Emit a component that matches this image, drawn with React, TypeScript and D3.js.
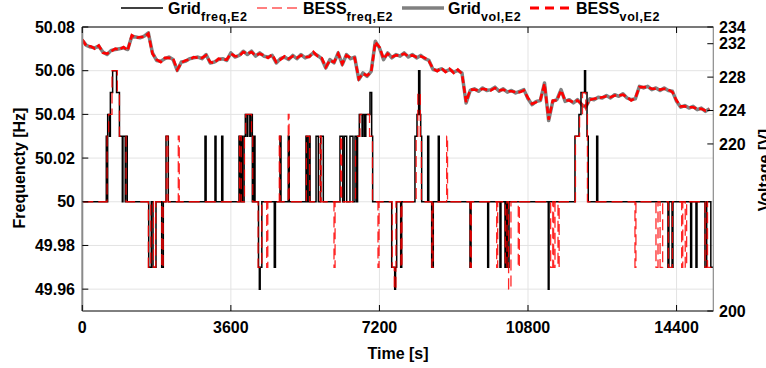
import React from 'react';
import * as d3 from 'd3';

const W = 766;
const H = 368;

const timeTicks = [0, 3600, 7200, 10800, 14400];
const freqTicks = [49.96, 49.98, 50, 50.02, 50.04, 50.06, 50.08];
const voltTicks = [200, 220, 224, 228, 232, 234];
const timeEnd = 15290;
const volStep = 100; // seconds between voltage samples

const gridVol = [
  232.4, 231.8, 231.6, 231.5, 231.7, 231.0, 230.7, 231.2, 231.3, 231.4,
  231.5, 231.3, 232.9, 232.8, 232.7, 232.9, 233.3, 230.9, 230.0, 229.9,
  230.2, 230.4, 230.1, 228.8, 229.8, 229.9, 230.2, 230.3, 230.4, 230.2,
  230.7, 229.7, 229.8, 230.1, 230.2, 230.0, 230.9, 230.4, 230.6, 231.1,
  230.7, 231.1, 230.5, 230.9, 230.5, 230.4, 230.6, 229.7, 230.2, 230.4,
  230.1, 230.6, 230.2, 230.7, 230.3, 230.5, 230.9, 230.6, 230.2, 229.1,
  230.1, 229.7, 230.9, 229.5, 230.7, 230.2, 230.4, 227.7, 228.5, 228.1,
  228.7, 232.3, 231.5, 230.1, 230.9, 230.3, 230.7, 230.5, 230.9, 230.4,
  230.7, 230.3, 230.6, 230.2, 230.0, 228.9, 228.8, 229.0, 228.7, 228.9,
  228.6, 228.8, 228.5, 224.9, 226.4, 226.6, 226.3, 226.7, 226.4, 226.5,
  226.8, 226.3, 226.6, 226.2, 226.4, 226.1, 226.3, 226.5, 225.4, 224.7,
  225.1, 225.2, 227.3, 222.8, 225.1, 225.3, 226.5, 225.1, 225.3, 224.9,
  225.3, 224.7, 224.4, 225.4, 225.3, 225.6, 225.5, 225.8, 225.5, 225.9,
  225.7, 226.0, 225.5, 225.3, 225.4, 226.9, 226.7, 226.9, 226.5, 226.7,
  226.4, 226.7, 226.4, 226.3, 225.1, 224.4, 224.6, 224.3, 224.5, 224.1,
  224.3, 223.9, 224.2,
];

const bessVol = [
  232.5, 231.7, 231.7, 231.4, 231.8, 230.9, 230.8, 231.1, 231.4, 231.3,
  231.6, 231.2, 233.0, 232.7, 232.8, 232.8, 233.2, 230.8, 230.1, 229.8,
  230.3, 230.3, 230.2, 228.9, 229.7, 230.0, 230.1, 230.4, 230.3, 230.3,
  230.6, 229.8, 229.7, 230.2, 230.1, 230.1, 230.8, 230.5, 230.5, 231.0,
  230.8, 231.0, 230.6, 230.8, 230.6, 230.3, 230.7, 229.8, 230.1, 230.5,
  230.2, 230.5, 230.3, 230.6, 230.4, 230.4, 231.0, 230.5, 230.3, 229.2,
  230.0, 229.8, 230.8, 229.6, 230.6, 230.3, 230.3, 227.8, 228.4, 228.2,
  228.6, 232.2, 231.6, 230.2, 230.8, 230.4, 230.6, 230.6, 230.8, 230.5,
  230.6, 230.4, 230.5, 230.3, 229.9, 229.0, 228.7, 229.1, 228.6, 229.0,
  228.5, 228.9, 228.4, 225.0, 226.5, 226.5, 226.4, 226.6, 226.5, 226.4,
  226.7, 226.4, 226.5, 226.3, 226.3, 226.2, 226.2, 226.4, 225.5, 224.8,
  225.0, 225.3, 227.2, 222.9, 225.2, 225.2, 226.4, 225.2, 225.2, 225.0,
  225.2, 224.8, 224.5, 225.3, 225.4, 225.5, 225.6, 225.7, 225.6, 225.8,
  225.8, 225.9, 225.6, 225.2, 225.5, 226.8, 226.8, 226.8, 226.6, 226.6,
  226.5, 226.6, 226.5, 226.2, 225.2, 224.5, 224.5, 224.4, 224.4, 224.2,
  224.2, 224.0, 224.1,
];

const gridFreq: [number, number][] = [
  [0, 50],
  [581, 50.03], [605, 50], [615, 50.04], [660, 50.03], [680, 50.05], [735, 50.06],
  [830, 50.05], [900, 50.03], [970, 50], [985, 50.03], [1040, 50], [1050, 50.03], [1090, 50],
  [1609, 49.97], [1672, 50], [1713, 49.97], [1786, 50], [1924, 49.97], [1963, 50],
  [2028, 50.03], [2084, 50],
  [2973, 50.03], [3000, 50], [3215, 50.03], [3240, 50], [3378, 50.03], [3405, 50],
  [3797, 50.03], [3830, 50], [3845, 50.03], [3880, 50], [3920, 50.03], [3950, 50.04],
  [3990, 50.03], [4010, 50.04], [4060, 50.03], [4080, 50.04], [4120, 50], [4150, 50.03], [4185, 50],
  [4270, 49.97], [4290, 49.96], [4310, 49.97], [4350, 50],
  [4652, 49.97], [4680, 50],
  [4790, 50.03], [4815, 50],
  [4991, 50.03], [5015, 50],
  [5420, 50.03], [5450, 50], [5490, 50.03], [5520, 50],
  [5664, 50.03], [5720, 50], [5776, 50.03], [5840, 50],
  [6244, 50.03], [6310, 50], [6348, 50.03], [6406, 50],
  [6486, 50.03], [6559, 50],
  [6608, 50.03], [6650, 50], [6670, 50.03], [6712, 50.04], [6780, 50.03], [6800, 50.04],
  [6840, 50.03], [6870, 50.04], [6971, 50.05], [7012, 50.03], [7036, 50],
  [7497, 49.97], [7570, 49.96], [7590, 49.97], [7618, 50],
  [7715, 49.97], [7740, 50],
  [8061, 50.03], [8110, 50.04], [8150, 50.06], [8180, 50.04], [8200, 50.03], [8224, 50],
  [8369, 50.03], [8395, 50],
  [8466, 49.97], [8505, 50],
  [8626, 50.03], [8650, 50],
  [9394, 49.97], [9420, 50],
  [9823, 49.97], [9845, 50],
  [10121, 49.97], [10145, 50],
  [10242, 49.97], [10270, 50], [10300, 49.97], [10340, 50],
  [11291, 49.96], [11310, 50],
  [11938, 50.03], [12035, 50.04], [12084, 50.05], [12170, 50.06], [12195, 50.05], [12230, 50.03], [12260, 50],
  [12464, 50.03], [12490, 50],
  [14191, 49.97], [14215, 50], [14290, 49.97], [14313, 50],
  [14741, 49.97], [14765, 50], [14870, 49.97], [14895, 50],
  [15088, 49.97], [15130, 50], [15230, 49.97],
];

const bessFreq: [number, number][] = [
  [0, 50],
  [600, 50.03], [640, 50.04], [720, 50.06], [850, 50.05], [900, 50.03], [1060, 50],
  [1600, 49.97], [1660, 50], [1725, 49.97], [1780, 50], [1925, 49.97], [1960, 50],
  [2035, 50.03], [2075, 50],
  [2326, 50.03], [2350, 50],
  [3810, 50.03], [3850, 50], [3930, 50.03], [3960, 50.04], [4100, 50.03], [4130, 50],
  [4260, 49.97], [4350, 50], [4468, 49.97], [4495, 50],
  [4773, 50.03], [4795, 50],
  [4991, 50.04], [5010, 50],
  [5430, 50.03], [5510, 50],
  [5760, 50.03], [5790, 50],
  [6099, 49.97], [6125, 50],
  [6260, 50.03], [6285, 50],
  [6620, 50.03], [6730, 50.04], [6960, 50.03], [7030, 50],
  [7165, 49.97], [7190, 50],
  [7510, 49.97], [7560, 49.96], [7600, 50],
  [7720, 49.97], [7745, 50],
  [8090, 50.03], [8130, 50.05], [8190, 50.03], [8215, 50],
  [8470, 49.97], [8500, 50],
  [8829, 50.03], [8850, 50],
  [9400, 49.97], [9425, 50],
  [10041, 49.97], [10065, 50],
  [10250, 49.97], [10290, 50], [10330, 49.96], [10387, 50],
  [10564, 49.97], [10590, 50],
  [11349, 49.97], [11400, 50], [11420, 49.97], [11454, 50],
  [11527, 49.97], [11555, 50],
  [11950, 50.03], [12050, 50.04], [12120, 50.05], [12200, 50.04], [12240, 50],
  [13392, 49.97], [13415, 50],
  [13901, 49.97], [13950, 50], [14000, 49.97], [14063, 50],
  [14200, 49.97], [14300, 50],
  [14523, 49.97], [14550, 50], [14610, 49.97], [14644, 50],
  [15090, 49.97], [15140, 50], [15150, 49.97],
];

const PL = 82.3, PR = 713.3, PT = 27, PB = 311;
const FONT = '"Liberation Sans", Arial, Helvetica, sans-serif';

export default function App() {
  const x = d3.scaleLinear().domain([0, timeEnd]).range([PL, PR]);
  const yF = d3.scaleLinear().domain([49.95, 50.08]).range([PB, PT]);
  const yV = d3.scaleLinear().domain([200, 234]).range([PB, PT]);

  const volLine = d3.line<number>()
    .x((_, i) => x(i * volStep))
    .y((d) => yV(d));
  const freqLine = d3.line<[number, number]>()
    .x((d) => x(d[0]))
    .y((d) => yF(d[1]))
    .curve(d3.curveStepAfter);

  const withEnd = (s: [number, number][]) => [...s, [timeEnd, s[s.length - 1][1]] as [number, number]];

  const legendItems = [
    { x1: 121, x2: 163, tx: 168, main: 'Grid', sub: 'freq,E2', stroke: '#000', w: 1.5, dash: '' },
    { x1: 257, x2: 299, tx: 303, main: 'BESS', sub: 'freq,E2', stroke: '#ff0000', w: 1.2, dash: '10,5' },
    { x1: 402, x2: 444, tx: 448, main: 'Grid', sub: 'vol,E2', stroke: '#808080', w: 3.5, dash: '' },
    { x1: 530, x2: 573, tx: 576, main: 'BESS', sub: 'vol,E2', stroke: '#ff0000', w: 3, dash: '9,6' },
  ];

  return (
    <svg width={W} height={H} style={{ position: 'absolute', left: 0, top: 0, background: '#fff' }}
      fontFamily={FONT} fontWeight="bold">
      <rect x={0} y={0} width={W} height={H} fill="#fff" />
      <defs>
        <clipPath id="plotclip">
          <rect x={PL} y={PT} width={PR - PL} height={PB - PT} />
        </clipPath>
      </defs>
      {/* gridlines */}
      <g stroke="#e3e3e3" strokeWidth={1}>
        {freqTicks.map((t) => (
          <line key={'gy' + t} x1={PL} x2={PR} y1={yF(t)} y2={yF(t)} />
        ))}
        {timeTicks.map((t) => (
          <line key={'gx' + t} x1={x(t)} x2={x(t)} y1={PT} y2={PB} />
        ))}
      </g>
      {/* data */}
      <g clipPath="url(#plotclip)" fill="none">
        <path d={volLine(gridVol) || ''} stroke="#808080" strokeWidth={3.5} strokeLinejoin="round" />
        <path d={volLine(bessVol) || ''} stroke="#ff0000" strokeWidth={2.6} strokeDasharray="7,3" />
        <path d={freqLine(withEnd(gridFreq)) || ''} stroke="#000" strokeWidth={1.5} />
        <path d={freqLine(withEnd(bessFreq)) || ''} stroke="#ff0000" strokeWidth={1.3} strokeDasharray="11,5" strokeOpacity={0.85} />
      </g>
      {/* axes box */}
      <line x1={PL} x2={PR} y1={PT} y2={PT} stroke="#000" strokeWidth={1} />
      <line x1={PL} x2={PR} y1={PB} y2={PB} stroke="#000" strokeWidth={1} />
      <line x1={PL} x2={PL} y1={PT} y2={PB} stroke="#8a8a8a" strokeWidth={2} />
      <line x1={PR} x2={PR} y1={PT} y2={PB} stroke="#8a8a8a" strokeWidth={1.2} />
      {/* x ticks */}
      {timeTicks.map((t) => (
        <g key={'xt' + t}>
          <line x1={x(t)} x2={x(t)} y1={PB} y2={PB - 6} stroke="#000" />
          <line x1={x(t)} x2={x(t)} y1={PT} y2={PT + 6} stroke="#000" />
          <text x={x(t)} y={333} textAnchor="middle" fontSize={16} fill="#000">{t}</text>
        </g>
      ))}
      {/* left ticks */}
      {freqTicks.map((t) => (
        <g key={'yt' + t}>
          <line x1={PL} x2={PL + 6} y1={yF(t)} y2={yF(t)} stroke="#000" />
          <text x={75} y={yF(t) + 5.7} textAnchor="end" fontSize={16} fill="#000">{String(+t.toFixed(2))}</text>
        </g>
      ))}
      {/* right ticks */}
      {voltTicks.map((t) => (
        <g key={'vt' + t}>
          <line x1={PR - 6} x2={PR} y1={yV(t)} y2={yV(t)} stroke="#000" />
          <text x={719} y={yV(t) + 5.7} textAnchor="start" fontSize={16} fill="#000">{t}</text>
        </g>
      ))}
      {/* axis labels */}
      <text transform="translate(25,168) rotate(-90)" textAnchor="middle" fontSize={16} fill="#000">Frequencty [Hz]</text>
      <text transform="translate(770,170) rotate(-90)" textAnchor="middle" fontSize={16} fill="#000">Voltage [V]</text>
      <text x={398} y={359} textAnchor="middle" fontSize={16} fill="#000">Time [s]</text>
      {/* legend */}
      {legendItems.map((it) => (
        <g key={it.tx}>
          <line x1={it.x1} x2={it.x2} y1={8} y2={8} stroke={it.stroke} strokeWidth={it.w}
            strokeDasharray={it.dash || undefined} />
          <text x={it.tx} y={13.5} fontSize={16} fill="#000">
            {it.main}
            <tspan fontSize={12.5} dy={7.5} letterSpacing={0.6}>{it.sub}</tspan>
          </text>
        </g>
      ))}
    </svg>
  );
}
